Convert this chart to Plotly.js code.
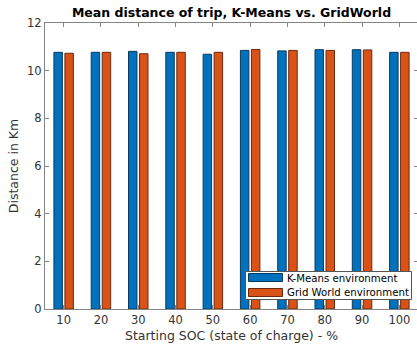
<!DOCTYPE html>
<html>
<head>
<meta charset="utf-8">
<script src="https://cdn.plot.ly/plotly-3.0.1.min.js"></script>
<style>
  html, body { margin: 0; padding: 0; background: #fff; overflow: hidden; }
  #chart { width: 420px; height: 349px; }
</style>
</head>
<body>
<div id="chart"></div>
<script>
// Starting state of charge (%) for each trip batch
const socLevels = [10, 20, 30, 40, 50, 60, 70, 80, 90, 100];
// Mean trip distance (km) per environment
const kmeansDist = [10.77, 10.77, 10.81, 10.77, 10.69, 10.85, 10.83, 10.88, 10.88, 10.77];
const gridDist   = [10.73, 10.77, 10.71, 10.77, 10.77, 10.89, 10.85, 10.85, 10.87, 10.77];
const seriesNames = ['K-Means environment', 'Grid World environment'];
const yTicks = [0, 2, 4, 6, 8, 10, 12];

const blue = '#0072BD', blueEdge = '#0b3a5e';
const orange = '#D95319', orangeEdge = '#6b2a0e';
const lineColor = '#858585';
const textColor = '#333333';
const font = 'DejaVu Sans, sans-serif';

const traces = [
  { type: 'bar', x: socLevels, y: kmeansDist, name: seriesNames[0],
    marker: { color: blue, line: { color: blueEdge, width: 1 } } },
  { type: 'bar', x: socLevels, y: gridDist, name: seriesNames[1],
    marker: { color: orange, line: { color: orangeEdge, width: 1 } } }
];

// Legend box drawn in paper coordinates (plot area spans 45..418 px, 23..309 px)
const W = 373, H = 286;
const px = v => (v - 45) / W;
const py = v => (309 - v) / H;
const shapes = [
  { type: 'rect', xref: 'paper', yref: 'paper', x0: px(245.5), x1: px(411.5), y0: py(299.5), y1: py(271.5),
    line: { color: '#555555', width: 1 }, fillcolor: '#ffffff' },
  { type: 'rect', xref: 'paper', yref: 'paper', x0: px(248.5), x1: px(282.5), y0: py(281.5), y1: py(273.5),
    line: { color: blueEdge, width: 1 }, fillcolor: blue },
  { type: 'rect', xref: 'paper', yref: 'paper', x0: px(248.5), x1: px(282.5), y0: py(296.5), y1: py(288.5),
    line: { color: orangeEdge, width: 1 }, fillcolor: orange }
];
const annotations = [
  { xref: 'paper', yref: 'paper', x: px(285), y: py(278), xanchor: 'left', yanchor: 'middle',
    text: seriesNames[0], showarrow: false, font: { family: font, size: 10.2, color: '#000' } },
  { xref: 'paper', yref: 'paper', x: px(285), y: py(292.5), xanchor: 'left', yanchor: 'middle',
    text: seriesNames[1], showarrow: false, font: { family: font, size: 10.2, color: '#000' } }
];

const layout = {
  width: 420, height: 349,
  margin: { l: 45, r: 2, t: 23, b: 40 },
  paper_bgcolor: '#fff', plot_bgcolor: '#fff',
  showlegend: false,
  barmode: 'group', bargap: 0.41, bargroupgap: 0.23,
  font: { family: font, color: textColor },
  title: { text: '<b>Mean distance of trip, K-Means vs. GridWorld</b>',
           font: { family: font, size: 12.5, color: '#000' },
           x: 231.5 / 420, xanchor: 'center', y: 1 - 13 / 349, yanchor: 'middle' },
  xaxis: {
    range: [5, 105], tickvals: socLevels, ticktext: socLevels.map(String),
    ticks: 'inside', ticklen: 4, tickcolor: lineColor, mirror: 'ticks',
    showline: true, linecolor: lineColor, linewidth: 1, showgrid: false, zeroline: false,
    tickfont: { family: font, size: 11.5, color: textColor },
    title: { text: 'Starting SOC (state of charge) - %', standoff: 5,
             font: { family: font, size: 12.5, color: textColor } }
  },
  yaxis: {
    range: [0, 12], tickvals: yTicks,
    ticks: 'inside', ticklen: 4, tickcolor: lineColor, mirror: 'ticks',
    showline: true, linecolor: lineColor, linewidth: 1, showgrid: false, zeroline: false,
    tickfont: { family: font, size: 11.5, color: textColor },
    title: { text: 'Distance in Km', standoff: 5,
             font: { family: font, size: 12.5, color: textColor } }
  },
  shapes: shapes,
  annotations: annotations
};

Plotly.newPlot('chart', traces, layout, { displayModeBar: false, staticPlot: true });
</script>
</body>
</html>
